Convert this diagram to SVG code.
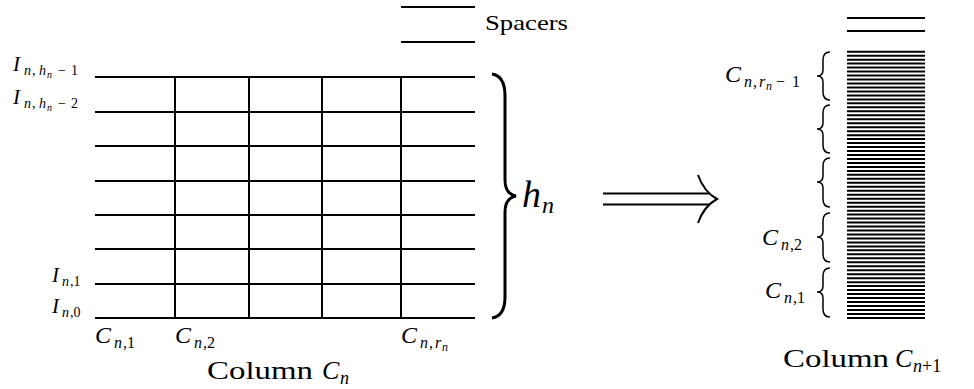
<svg xmlns="http://www.w3.org/2000/svg" width="974" height="389" viewBox="0 0 974 389">
<style>
.ln{stroke:#000;stroke-width:2;fill:none}
.st{stroke:#000;stroke-width:2;fill:none}
.br{stroke:#000;stroke-width:1.5;fill:none}
text{font-family:"Liberation Serif","DejaVu Serif",serif;fill:#000}
.it{font-style:italic}
</style>
<rect width="974" height="389" fill="#fff"/>
<g id="column-n">
  <g id="levels">
    <line class="ln" x1="95" y1="77" x2="475" y2="77"/>
    <line class="ln" x1="95" y1="112" x2="475" y2="112"/>
    <line class="ln" x1="95" y1="146" x2="475" y2="146"/>
    <line class="ln" x1="95" y1="181" x2="475" y2="181"/>
    <line class="ln" x1="95" y1="215" x2="475" y2="215"/>
    <line class="ln" x1="95" y1="249" x2="475" y2="249"/>
    <line class="ln" x1="95" y1="284" x2="475" y2="284"/>
    <line class="ln" x1="95" y1="318" x2="475" y2="318"/>
  </g>
  <g id="cuts">
    <line class="ln" x1="175" y1="77" x2="175" y2="318"/>
    <line class="ln" x1="249" y1="77" x2="249" y2="318"/>
    <line class="ln" x1="322" y1="77" x2="322" y2="318"/>
    <line class="ln" x1="401" y1="77" x2="401" y2="318"/>
  </g>
  <g id="spacers">
    <line class="ln" x1="401" y1="7" x2="475" y2="7"/>
    <line class="ln" x1="401" y1="42" x2="475" y2="42"/>
    <text x="485" y="30" font-size="21" textLength="83" lengthAdjust="spacingAndGlyphs">Spacers</text>
  </g>
  <g id="left-labels">
    <text font-size="21"><tspan class="it" x="13" y="71">I</tspan><tspan class="it" x="24" y="75" font-size="14">n</tspan><tspan x="32" y="75" font-size="14">,</tspan><tspan class="it" x="39" y="75" font-size="14">h</tspan><tspan class="it" x="47" y="78" font-size="10">n</tspan><tspan x="58" y="75" font-size="14">−</tspan><tspan x="71" y="75" font-size="14">1</tspan></text>
    <text font-size="21"><tspan class="it" x="13" y="104">I</tspan><tspan class="it" x="24" y="108" font-size="14">n</tspan><tspan x="32" y="108" font-size="14">,</tspan><tspan class="it" x="39" y="108" font-size="14">h</tspan><tspan class="it" x="47" y="111" font-size="10">n</tspan><tspan x="58" y="108" font-size="14">−</tspan><tspan x="71" y="108" font-size="14">2</tspan></text>
    <text font-size="21"><tspan class="it" x="52" y="282">I</tspan><tspan class="it" x="62" y="286" font-size="14">n</tspan><tspan x="70" y="286" font-size="14">,1</tspan></text>
    <text font-size="21"><tspan class="it" x="52" y="313">I</tspan><tspan class="it" x="62" y="317" font-size="14">n</tspan><tspan x="70" y="317" font-size="14">,0</tspan></text>
  </g>
  <g id="bottom-labels">
    <text font-size="24"><tspan class="it" x="95" y="343">C</tspan><tspan class="it" x="114" y="348" font-size="16">n</tspan><tspan x="123" y="348" font-size="16">,1</tspan></text>
    <text font-size="24"><tspan class="it" x="175" y="343">C</tspan><tspan class="it" x="194" y="348" font-size="16">n</tspan><tspan x="203" y="348" font-size="16">,2</tspan></text>
    <text font-size="24"><tspan class="it" x="401" y="343">C</tspan><tspan class="it" x="420" y="348" font-size="16">n</tspan><tspan x="429" y="348" font-size="16">,</tspan><tspan class="it" x="435" y="348" font-size="16">r</tspan><tspan class="it" x="442" y="351" font-size="12">n</tspan></text>
    <text font-size="26"><tspan x="207" y="379" textLength="106" lengthAdjust="spacingAndGlyphs">Column</tspan><tspan class="it" x="322" y="379">C</tspan><tspan class="it" x="340" y="384" font-size="18">n</tspan></text>
  </g>
  <g id="height-brace">
    <path d="M 492 74 Q 505 76 505 96 L 505 180 Q 505 194 516 196 Q 505 198 505 212 L 505 297 Q 505 316 492 318" stroke="#000" stroke-width="3" fill="none"/>
    <text font-size="38"><tspan class="it" x="522" y="207">h</tspan><tspan class="it" x="542" y="213" font-size="24">n</tspan></text>
  </g>
</g>
<g id="connectors">
  <line class="ln" x1="603" y1="193.5" x2="709" y2="193.5" stroke-width="2.4"/>
  <line class="ln" x1="603" y1="204.5" x2="709" y2="204.5" stroke-width="2.4"/>
  <path d="M 698 175 Q 704 192 717 199 Q 704 206 698 223" class="ln" stroke-width="2.6"/>
</g>
<g id="column-n1">
  <g id="spacers-top">
    <line class="st" x1="847" y1="18" x2="925" y2="18"/>
    <line class="st" x1="847" y1="31" x2="925" y2="31"/>
  </g>
  <g id="stack">
    <line class="st" x1="847" y1="51.7" x2="925" y2="51.7"/>
    <line class="st" x1="847" y1="55.67" x2="925" y2="55.67"/>
    <line class="st" x1="847" y1="59.64" x2="925" y2="59.64"/>
    <line class="st" x1="847" y1="63.62" x2="925" y2="63.62"/>
    <line class="st" x1="847" y1="67.59" x2="925" y2="67.59"/>
    <line class="st" x1="847" y1="71.56" x2="925" y2="71.56"/>
    <line class="st" x1="847" y1="75.54" x2="925" y2="75.54"/>
    <line class="st" x1="847" y1="79.51" x2="925" y2="79.51"/>
    <line class="st" x1="847" y1="83.48" x2="925" y2="83.48"/>
    <line class="st" x1="847" y1="87.46" x2="925" y2="87.46"/>
    <line class="st" x1="847" y1="91.43" x2="925" y2="91.43"/>
    <line class="st" x1="847" y1="95.4" x2="925" y2="95.4"/>
    <line class="st" x1="847" y1="99.38" x2="925" y2="99.38"/>
    <line class="st" x1="847" y1="103.35" x2="925" y2="103.35"/>
    <line class="st" x1="847" y1="107.32" x2="925" y2="107.32"/>
    <line class="st" x1="847" y1="111.3" x2="925" y2="111.3"/>
    <line class="st" x1="847" y1="115.27" x2="925" y2="115.27"/>
    <line class="st" x1="847" y1="119.24" x2="925" y2="119.24"/>
    <line class="st" x1="847" y1="123.22" x2="925" y2="123.22"/>
    <line class="st" x1="847" y1="127.19" x2="925" y2="127.19"/>
    <line class="st" x1="847" y1="131.16" x2="925" y2="131.16"/>
    <line class="st" x1="847" y1="135.14" x2="925" y2="135.14"/>
    <line class="st" x1="847" y1="139.11" x2="925" y2="139.11"/>
    <line class="st" x1="847" y1="143.08" x2="925" y2="143.08"/>
    <line class="st" x1="847" y1="147.06" x2="925" y2="147.06"/>
    <line class="st" x1="847" y1="151.03" x2="925" y2="151.03"/>
    <line class="st" x1="847" y1="155" x2="925" y2="155"/>
    <line class="st" x1="847" y1="158.98" x2="925" y2="158.98"/>
    <line class="st" x1="847" y1="162.95" x2="925" y2="162.95"/>
    <line class="st" x1="847" y1="166.92" x2="925" y2="166.92"/>
    <line class="st" x1="847" y1="170.9" x2="925" y2="170.9"/>
    <line class="st" x1="847" y1="174.87" x2="925" y2="174.87"/>
    <line class="st" x1="847" y1="178.84" x2="925" y2="178.84"/>
    <line class="st" x1="847" y1="182.82" x2="925" y2="182.82"/>
    <line class="st" x1="847" y1="186.79" x2="925" y2="186.79"/>
    <line class="st" x1="847" y1="190.76" x2="925" y2="190.76"/>
    <line class="st" x1="847" y1="194.74" x2="925" y2="194.74"/>
    <line class="st" x1="847" y1="198.71" x2="925" y2="198.71"/>
    <line class="st" x1="847" y1="202.68" x2="925" y2="202.68"/>
    <line class="st" x1="847" y1="206.66" x2="925" y2="206.66"/>
    <line class="st" x1="847" y1="210.63" x2="925" y2="210.63"/>
    <line class="st" x1="847" y1="214.6" x2="925" y2="214.6"/>
    <line class="st" x1="847" y1="218.58" x2="925" y2="218.58"/>
    <line class="st" x1="847" y1="222.55" x2="925" y2="222.55"/>
    <line class="st" x1="847" y1="226.52" x2="925" y2="226.52"/>
    <line class="st" x1="847" y1="230.5" x2="925" y2="230.5"/>
    <line class="st" x1="847" y1="234.47" x2="925" y2="234.47"/>
    <line class="st" x1="847" y1="238.44" x2="925" y2="238.44"/>
    <line class="st" x1="847" y1="242.42" x2="925" y2="242.42"/>
    <line class="st" x1="847" y1="246.39" x2="925" y2="246.39"/>
    <line class="st" x1="847" y1="250.36" x2="925" y2="250.36"/>
    <line class="st" x1="847" y1="254.34" x2="925" y2="254.34"/>
    <line class="st" x1="847" y1="258.31" x2="925" y2="258.31"/>
    <line class="st" x1="847" y1="262.28" x2="925" y2="262.28"/>
    <line class="st" x1="847" y1="266.26" x2="925" y2="266.26"/>
    <line class="st" x1="847" y1="270.23" x2="925" y2="270.23"/>
    <line class="st" x1="847" y1="274.2" x2="925" y2="274.2"/>
    <line class="st" x1="847" y1="278.18" x2="925" y2="278.18"/>
    <line class="st" x1="847" y1="282.15" x2="925" y2="282.15"/>
    <line class="st" x1="847" y1="286.12" x2="925" y2="286.12"/>
    <line class="st" x1="847" y1="290.1" x2="925" y2="290.1"/>
    <line class="st" x1="847" y1="294.07" x2="925" y2="294.07"/>
    <line class="st" x1="847" y1="298.04" x2="925" y2="298.04"/>
    <line class="st" x1="847" y1="302.02" x2="925" y2="302.02"/>
    <line class="st" x1="847" y1="305.99" x2="925" y2="305.99"/>
    <line class="st" x1="847" y1="309.96" x2="925" y2="309.96"/>
    <line class="st" x1="847" y1="313.94" x2="925" y2="313.94"/>
    <line class="st" x1="847" y1="318" x2="925" y2="318"/>
  </g>
  <g id="sub-braces">
    <path class="br" d="M 830 52 Q 823 52 823 60 L 823 70 Q 823 76 817 76 Q 823 76 823 82 L 823 92 Q 823 100 830 100"/>
    <path class="br" d="M 830 105 Q 823 105 823 113 L 823 123 Q 823 129 817 129 Q 823 129 823 135 L 823 145 Q 823 153 830 153"/>
    <path class="br" d="M 830 158 Q 823 158 823 166 L 823 176 Q 823 182 817 182 Q 823 182 823 188 L 823 199 Q 823 207 830 207"/>
    <path class="br" d="M 830 213 Q 823 213 823 221 L 823 231 Q 823 237 817 237 Q 823 237 823 243 L 823 254 Q 823 262 830 262"/>
    <path class="br" d="M 830 268 Q 823 268 823 276 L 823 286 Q 823 292 817 292 Q 823 292 823 298 L 823 309 Q 823 317 830 317"/>
  </g>
  <g id="right-labels">
    <text font-size="24"><tspan class="it" x="725" y="82">C</tspan><tspan class="it" x="744" y="87" font-size="16">n</tspan><tspan x="753" y="87" font-size="16">,</tspan><tspan class="it" x="759" y="87" font-size="16">r</tspan><tspan class="it" x="766" y="90" font-size="12">n</tspan><tspan x="776" y="87" font-size="16">−</tspan><tspan x="792" y="87" font-size="16">1</tspan></text>
    <text font-size="24"><tspan class="it" x="762" y="245">C</tspan><tspan class="it" x="781" y="250" font-size="16">n</tspan><tspan x="790" y="250" font-size="16">,2</tspan></text>
    <text font-size="24"><tspan class="it" x="765" y="298">C</tspan><tspan class="it" x="784" y="303" font-size="16">n</tspan><tspan x="793" y="303" font-size="16">,1</tspan></text>
    <text font-size="26"><tspan x="783" y="367" textLength="106" lengthAdjust="spacingAndGlyphs">Column</tspan><tspan class="it" x="895" y="367">C</tspan><tspan class="it" x="913" y="372" font-size="18">n</tspan><tspan x="922" y="372" font-size="18">+1</tspan></text>
  </g>
</g>
</svg>
